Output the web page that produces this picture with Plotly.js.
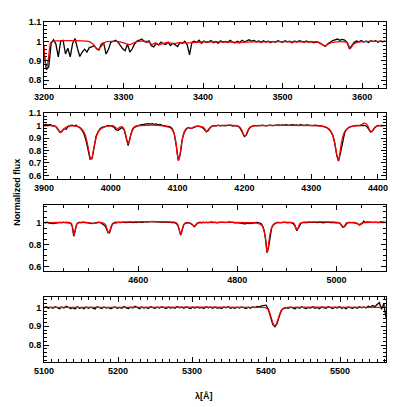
<!DOCTYPE html>
<html>
<head>
<meta charset="utf-8">
<script src="https://cdn.plot.ly/plotly-3.0.1.min.js"></script>
<style>html,body{margin:0;padding:0;background:#fff;}#chart{width:407px;height:407px;}</style>
</head>
<body>
<div id="chart"></div>
<script>
// ---- Observed spectrum (black), flux in units of 1/1000, on uniform wavelength grids ----
const obs1Start = 3200, obs1Step = 3;
const obs1Flux = [
940,855,870,990,1008,985,920,1002,1006,935,
965,920,990,1015,965,922,945,960,945,968,
972,978,962,955,985,992,935,958,995,1002,
1006,996,978,962,952,985,945,962,988,1002,
1006,1012,1000,996,1003,978,972,990,982,996,
988,984,996,979,991,984,973,995,989,1001,
984,930,996,1001,994,1006,990,1002,995,998,
1004,993,999,991,1003,996,1000,994,1005,997,
992,1001,995,1006,998,1003,1009,1001,1005,998,
1002,995,1003,997,1001,994,1000,996,1004,999,
995,1003,998,1001,993,1002,997,1004,999,996,
1002,995,1000,993,998,996,988,982,975,988,
997,1004,1008,1012,1006,1010,1007,995,962,978,
995,1002,998,1005,997,1001,994,1003,999,1004,
996,1002,998,1003
];
const obs2Start = 3900, obs2Step = 3;
const obs2Flux = [
1005,1010,1003,1008,1000,998,990,965,945,955,
975,970,990,1000,1003,998,1002,990,982,962,
930,880,805,730,735,840,915,950,975,985,
992,996,1000,998,995,985,965,962,975,985,
965,910,840,905,960,985,993,1000,1005,1008,
1012,1010,1015,1012,1016,1010,1013,1006,1010,1002,
1000,998,995,990,975,935,840,720,770,890,
950,975,985,978,980,990,993,995,992,985,
970,950,960,985,995,1000,998,1003,998,1002,
997,1001,999,1003,996,1000,997,993,975,945,
912,925,965,988,996,1001,998,1002,999,1003,
1000,997,1002,1004,999,1003,1001,1005,1002,1006,
1003,1007,1002,1005,1008,1003,1006,1002,1007,1004,
1001,1005,1002,1004,1000,1003,999,1001,997,995,
990,984,972,955,925,865,770,715,785,880,
940,968,984,991,996,999,1001,998,1002,999,
1001,995,975,948,958,982,995,1001,998,1002,
1000
];
const obs3Start = 4410, obs3Step = 3;
const obs3Flux = [
1002,998,1003,996,992,995,990,993,996,994,
998,1001,997,1003,999,1002,998,1000,992,965,
875,935,985,998,1002,997,1003,999,1001,996,
998,994,990,992,997,1001,999,1003,998,990,
985,970,945,910,905,955,988,998,1002,998,
1003,999,1001,997,1004,1000,1002,998,1003,1001,
999,1004,1000,1006,1002,1005,1001,1004,1007,1003,
1005,1008,1004,1010,1006,1009,1005,1008,1004,1006,
1003,1007,1002,1005,1001,1003,999,1002,998,993,
975,930,885,935,980,995,1000,998,995,990,
978,962,978,993,999,1002,998,1003,1000,1004,
999,1003,1001,1005,1000,1004,998,1002,999,1003,
1001,1004,999,1002,1000,1005,1001,1003,998,1002,
999,996,993,990,992,988,991,994,990,993,
996,999,997,1000,998,995,990,970,930,850,
725,775,880,945,975,990,996,1000,998,1002,
999,1003,1000,1002,998,1001,999,995,985,962,
925,950,985,996,1000,998,1002,1000,1003,999,
1001,1004,1000,1002,999,1003,1000,1002,998,1001,
1003,999,1002,1000,1004,1001,998,1002,999,993,
975,958,962,985,997,1001,999,1003,1000,998,
995,988,978,982,992,1012,1000,1005,1001,1003,
1003,999,1004,1001,1003,1000,1005,1002,1000,1003,
1001
];
const obs4Start = 5100, obs4Step = 3;
const obs4Flux = [
998,1003,995,1001,996,1004,999,993,1002,997,
1006,1001,994,999,992,1003,996,1000,993,1002,
995,1001,997,992,1004,998,994,1002,996,1000,
993,999,1003,995,1000,996,1005,998,994,1001,
997,1006,999,993,1002,996,1000,994,1003,998,
995,1001,997,1004,999,994,1002,997,1000,995,
1005,998,1001,996,1003,999,994,1001,997,1002,
996,1000,994,1003,998,1001,995,1002,997,999,
994,1002,998,1004,996,1000,995,1001,997,1003,
998,994,1001,996,1002,999,1005,1003,1008,1010,
1012,990,955,910,898,915,955,985,995,999,
995,1002,997,993,1001,996,1003,998,994,1000,
997,1003,995,1000,993,1002,998,995,1004,999,
994,1001,997,1003,996,1000,993,1002,998,995,
1001,996,1004,998,1003,997,1006,1001,1010,1004,
1015,1025,990,1020,945
];

// ---- Model spectrum (red) ----
const mod1Wave = [3200,3202,3204,3206,3208,3210,3256,3262,3266,3269,3273,3278,3290,3298,3303,3308,3313,3318,3330,3336,3340,3345,3350,3356,3362,3370,3380,3400,3420,3440,3446,3452,3460,3480,3500,3520,3540,3548,3553,3558,3565,3578,3582,3585,3589,3595,3605,3630];
const mod1Flux = [980,885,872,930,988,1000,1000,985,965,960,980,998,1000,995,988,983,993,1000,1000,985,992,982,990,995,988,994,992,997,998,996,992,996,998,998,999,997,997,990,975,988,996,997,988,962,985,996,1000,1000];
const mod2Wave = [3900,3912,3917,3920,3923,3925,3928,3932,3938,3945,3952,3957,3961,3964,3967,3969,3970.5,3972,3974,3977,3980,3984,3990,3998,4003,4006,4010,4013,4016,4019,4022,4024,4026,4028,4030,4033,4037,4045,4075,4082,4088,4092,4095,4097.5,4099.5,4101.5,4103.5,4105.5,4108,4112,4116,4120,4124,4130,4137,4140,4143.5,4147,4152,4160,4188,4193,4196,4199,4201.5,4204,4207,4212,4220,4300,4315,4322,4327,4331,4334,4337,4339,4340.5,4342,4344,4347,4350,4354,4359,4366,4372,4376,4379,4382,4385,4388,4390,4393,4397,4402,4412];
const mod2Flux = [998,998,993,980,955,943,960,985,997,997,990,970,935,880,800,745,730,745,800,880,935,968,988,998,1000,988,975,985,992,980,935,885,852,878,930,975,995,1000,1000,993,985,968,930,865,770,718,760,840,915,962,983,978,988,996,990,978,952,975,995,1000,1000,988,965,925,918,945,980,996,1000,1000,995,988,972,940,895,810,745,720,745,820,905,950,975,990,998,1002,1008,1020,1016,995,958,950,968,992,1000,1000];
const mod3Wave = [4410,4460,4464,4467,4469,4470.5,4472,4474,4477,4482,4500,4506,4510,4514,4520,4530,4534,4537,4540,4543,4546,4550,4556,4676,4680,4683,4685.5,4688,4691,4695,4705,4709,4712,4714,4717,4721,4728,4830,4840,4846,4850,4853,4856,4858.5,4860.5,4862.5,4865,4868,4871,4875,4881,4890,4912,4915,4918,4920.5,4923,4926,4930,5005,5009,5012,5014.5,5017,5020,5025,5038,5042,5045,5048,5052,5058,5100];
const mod3Flux = [1000,1000,995,970,920,880,905,955,990,1000,1000,995,990,995,1000,995,980,945,905,930,970,990,1000,1000,980,935,888,920,970,995,995,985,965,962,980,997,1000,1000,995,985,970,940,880,790,727,780,870,935,970,990,998,1000,1000,990,955,930,955,990,1000,1000,985,962,958,975,995,1000,1000,990,980,985,997,1000,1000];
const mod4Wave = [5100,5395,5400,5404,5407,5410,5412,5414,5417,5420,5424,5430,5562];
const mod4Flux = [1000,1000,997,980,945,910,903,912,948,980,996,1000,1000];

// ---- Axes definitions (ranges, ticks) ----
const xRanges = [[3200,3630],[3900,4412],[4410,5100],[5100,5562]];
const yRanges = [[0.76,1.1],[0.57,1.1],[0.56,1.16],[0.71,1.055]];
const xTickVals = [[3200,3300,3400,3500,3600],[3900,4000,4100,4200,4300,4400],[4600,4800,5000],[5100,5200,5300,5400,5500]];
const yTickVals = [[0.8,0.9,1,1.1],[0.6,0.7,0.8,0.9,1,1.1],[0.6,0.8,1],[0.8,0.9,1]];
const xMinor = [20,20,50,10];
const yMinor = [0.02,0.025,0.05,0.02];
const yDomains = [[0.806,1.0],[0.538,0.732],[0.268,0.462],[0.0,0.191]];

const obsStart = [obs1Start,obs2Start,obs3Start,obs4Start];
const obsStep = [obs1Step,obs2Step,obs3Step,obs4Step];
const obsFlux = [obs1Flux,obs2Flux,obs3Flux,obs4Flux];
const modWave = [mod1Wave,mod2Wave,mod3Wave,mod4Wave];
const modFlux = [mod1Flux,mod2Flux,mod3Flux,mod4Flux];

const FONT = 'Liberation Sans, Arial, sans-serif';
const traces = [];
const layout = {
  width: 407, height: 407,
  margin: {l:44, r:21, t:22, b:45},
  paper_bgcolor: '#fff', plot_bgcolor: '#fff',
  showlegend: false,
  font: {family: FONT, size: 9, color: '#000'},
  annotations: [
    {text: '<b>Normalized flux</b>', textangle: -90, xref: 'paper', yref: 'paper',
     x: -0.08, y: 0.5, xanchor: 'center', yanchor: 'middle', showarrow: false,
     font: {size: 9, color: '#000', family: FONT}},
    {text: '<b>λ[Å]</b>', xref: 'paper', yref: 'paper',
     x: 0.468, y: -0.1, xanchor: 'center', yanchor: 'middle', showarrow: false,
     font: {size: 9, color: '#000', family: FONT}}
  ]
};

for (let p = 0; p < 4; p++) {
  const s = p === 0 ? '' : String(p + 1);
  const ox = obsFlux[p].map((v, i) => obsStart[p] + i * obsStep[p]);
  traces.push({x: ox, y: obsFlux[p].map(v => v / 1000), xaxis: 'x' + s, yaxis: 'y' + s,
    type: 'scatter', mode: 'lines', line: {color: '#000', width: 1.3}, hoverinfo: 'skip'});
  traces.push({x: modWave[p], y: modFlux[p].map(v => v / 1000), xaxis: 'x' + s, yaxis: 'y' + s,
    type: 'scatter', mode: 'lines', line: {color: '#ff0000', width: 1.25, shape: 'spline', smoothing: 0.6}, hoverinfo: 'skip'});
  const common = {
    showline: true, linecolor: '#000', linewidth: 1, mirror: 'allticks',
    ticks: 'inside', ticklen: 5, tickwidth: 1, tickcolor: '#000',
    showgrid: false, zeroline: false,
    tickfont: {size: 9, color: '#000', family: FONT, weight: 'bold'}
  };
  layout['xaxis' + s] = Object.assign({}, common, {
    range: xRanges[p], anchor: 'y' + s, domain: [0, 1],
    tickmode: 'array', tickvals: xTickVals[p],
    minor: {ticks: 'inside', ticklen: 3, tickwidth: 1, tickcolor: '#000', dtick: xMinor[p], showgrid: false}
  });
  layout['yaxis' + s] = Object.assign({}, common, {
    range: yRanges[p], anchor: 'x' + s, domain: yDomains[p],
    tickmode: 'array', tickvals: yTickVals[p],
    minor: {ticks: 'inside', ticklen: 3, tickwidth: 1, tickcolor: '#000', dtick: yMinor[p], showgrid: false}
  });
}

Plotly.newPlot('chart', traces, layout, {displayModeBar: false, staticPlot: true});
</script>
</body>
</html>
